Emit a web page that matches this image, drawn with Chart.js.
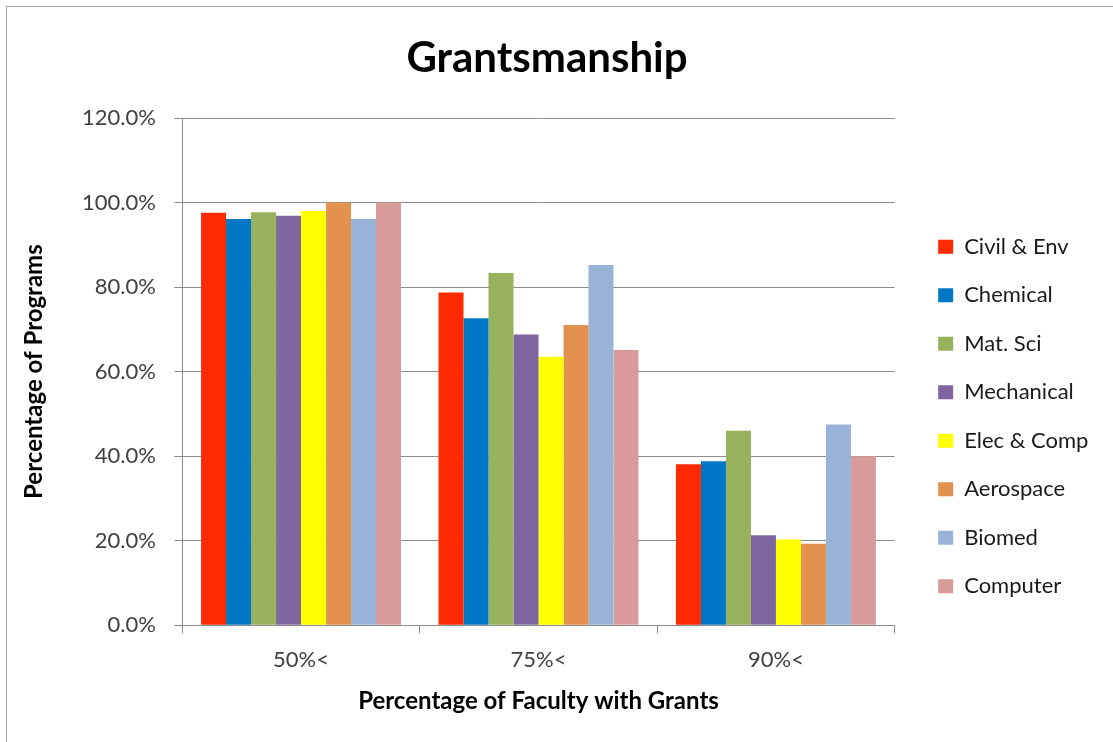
<!DOCTYPE html>
<html>
<head>
<meta charset="utf-8">
<script src="https://cdn.jsdelivr.net/npm/chart.js@4.4.0/dist/chart.umd.min.js"></script>
<style>
  body { margin: 0; background: #fff; }
  #wrap { position: relative; width: 1113px; height: 742px; }
  #frame { position: absolute; left: 6px; top: 6px; right: 0; bottom: 0;
           border-left: 1px solid #a6a6a6; border-top: 1px solid #a6a6a6; pointer-events: none; }
</style>
</head>
<body>
<div id="wrap">
  <canvas id="myChart" width="1113" height="742"></canvas>
  <div id="frame"></div>
</div>
<script>
// x-axis categories
const categories = ["50%<", "75%<", "90%<"];

// percentage of programs per discipline
const civilEnv = [97.6, 78.7, 38.1];
const chemical = [96.1, 72.6, 38.8];
const matSci = [97.7, 83.3, 46.0];
const mechanical = [96.9, 68.8, 21.3];
const elecComp = [98.0, 63.5, 20.3];
const aerospace = [100.0, 71.0, 19.3];
const biomed = [96.1, 85.2, 47.5];
const computer = [100.0, 65.1, 40.0];

// y-axis ticks
const yTicks = [0, 20, 40, 60, 80, 100, 120];

const fontFamily = "Lato, 'Open Sans', sans-serif";
const gridGray = "#8c8c8c";

const makeSet = (label, data, color) => ({
  label: label,
  data: data,
  backgroundColor: color,
  borderWidth: 0,
  categoryPercentage: 8 / 9.5,
  barPercentage: 1.0,
});

let ctx = document.getElementById("myChart").getContext("2d");
let myChart = new Chart(ctx, {
  type: "bar",
  data: {
    labels: categories,
    datasets: [
      makeSet("Civil & Env", civilEnv, "#FF2A00"),
      makeSet("Chemical", chemical, "#0077C4"),
      makeSet("Mat. Sci", matSci, "#97B15C"),
      makeSet("Mechanical", mechanical, "#8066A0"),
      makeSet("Elec & Comp", elecComp, "#FFFF00"),
      makeSet("Aerospace", aerospace, "#E3914F"),
      makeSet("Biomed", biomed, "#99B3D8"),
      makeSet("Computer", computer, "#D89B99"),
    ],
  },
  options: {
    responsive: false,
    animation: false,
    layout: { padding: { left: 0, right: 19, top: 0, bottom: 26 } },
    plugins: {
      title: {
        display: true,
        text: "Grantsmanship",
        color: "#000",
        font: { family: fontFamily, size: 42, weight: "bold" },
        padding: { top: 33, bottom: 34.6 },
      },
      legend: {
        position: "right",
        // blank title only pushes the items down a bit
        title: { display: true, text: " ", font: { size: 10 }, padding: { top: 105, bottom: 0 } },
        labels: {
          boxWidth: 15,
          boxHeight: 14,
          padding: 26.5,
          color: "#1a1a1a",
          font: { family: fontFamily, size: 22 },
        },
      },
      tooltip: { enabled: false },
    },
    scales: {
      x: {
        grid: { display: true, drawOnChartArea: false, offset: true, tickLength: 8, color: gridGray },
        border: { color: gridGray },
        ticks: { color: "#404040", padding: 16, font: { family: fontFamily, size: 22, lineHeight: 1 } },
        title: {
          display: true,
          text: "Percentage of Faculty with Grants",
          color: "#000",
          font: { family: fontFamily, size: 24, weight: "bold" },
          padding: { top: 0, bottom: 0 },
        },
      },
      y: {
        min: 0,
        max: 120,
        afterBuildTicks: (axis) => {
          axis.ticks = yTicks.map((v) => ({ value: v }));
        },
        grid: { color: gridGray, tickLength: 8 },
        border: { color: gridGray },
        ticks: {
          color: "#404040",
          padding: 18.5,
          font: { family: fontFamily, size: 22 },
          callback: (v) => v.toFixed(1) + "%",
        },
        title: {
          display: true,
          text: "Percentage of Programs",
          color: "#000",
          font: { family: fontFamily, size: 24, weight: "bold" },
          padding: { top: 19.6, bottom: 22 },
        },
      },
      // empty spacer between plot and legend
      spacer: {
        type: "linear",
        position: "right",
        display: true,
        grid: { display: false },
        border: { display: false },
        ticks: { display: false },
        afterFit: (axis) => { axis.width = 17; },
      },
    },
  },
});
</script>
</body>
</html>
